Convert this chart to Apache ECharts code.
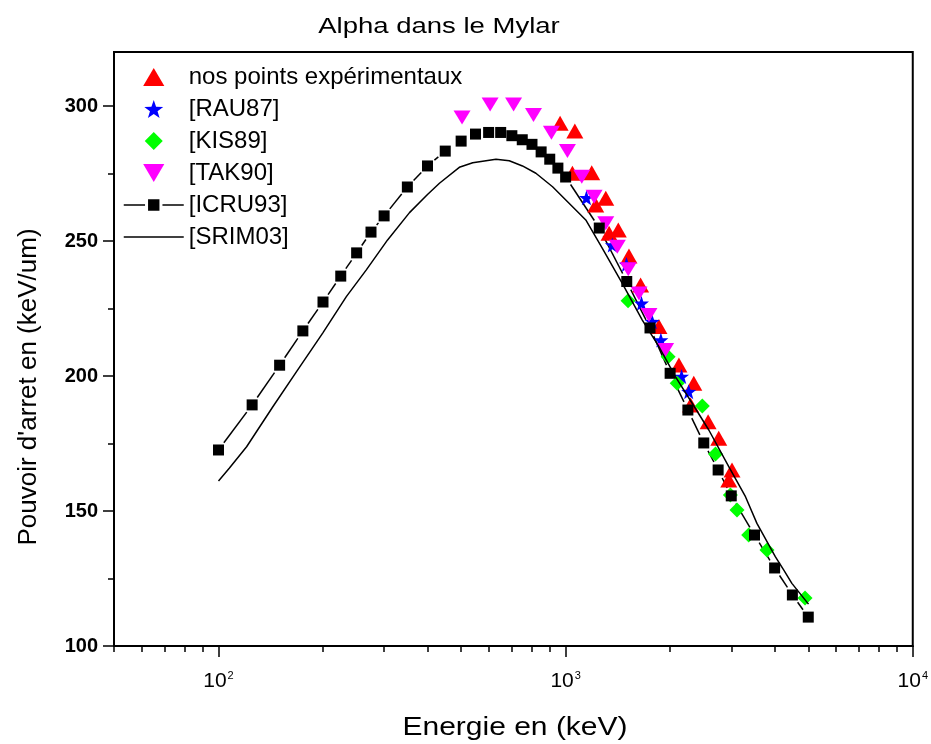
<!DOCTYPE html>
<html>
<head>
<meta charset="utf-8">
<script src="https://cdn.jsdelivr.net/npm/echarts@6/dist/echarts.min.js"></script>
<style>html,body{margin:0;padding:0;background:#fff}#c{width:931px;height:744px}</style>
</head>
<body>
<div id="c"></div>
<script>
// ---- data ----
const expE = [964,1063,1046,1189,1305,1221,1418,1334,1522,1644,1857,2120,2340,2291,2573,2761,3015,2951];
const expS = [293.6,290.7,275.1,275.3,265.8,263.3,254.1,252.9,244.4,233.7,218.3,204.1,197.3,189.3,183.1,176.9,165.2,161.5];
const rauE = [1148,1363,1497,1654,1776,1881,2158,2262];
const rauS = [266.0,248.5,241.3,226.9,220.1,213.3,199.8,194.2];
const kisE = [1513,1974,2096,2476,2702,2983,3117,3368,3802,4894];
const kisS = [227.9,207.1,197.3,188.9,171.1,155.9,150.4,141.1,135.6,117.8];
const takE = [503,606,708,808,910,1012,1113,1208,1305,1409,1515,1627,1738,1941];
const takS = [295.7,300.6,300.6,296.7,290.1,283.3,273.8,266.4,256.6,247.9,239.5,230.6,222.6,209.6];
const icruE = [100,125,150,175,200,225,250,275,300,350,400,450,500,550,600,650,700,750,800,850,900,950,1000,1250,1500,1750,2000,2250,2500,2750,3000,3500,4000,4500,5000];
const icruS = [172.6,189.3,204.0,216.7,227.4,237.0,245.6,253.3,259.3,270.0,277.8,283.3,287.0,289.6,290.2,290.2,289.0,287.5,285.8,283.0,280.3,277.0,273.7,254.8,235.0,217.8,201.0,187.4,175.2,165.2,155.6,141.1,128.9,118.9,110.7];
const srimE = [100,107.4,120.5,143.4,167.8,199.6,233.5,266.6,307,355,400,433,494,540,630,688,751,821,917,1023,1143,1276,1456,1663,1857,2073,2315,2585,2951,3297,3557,4018,4247,4485,5008];
const srimS = [161.1,165.8,173.8,188.6,201.6,215.9,229.4,239.3,250.4,260.5,267.2,271.4,277.3,279.0,280.3,279.7,277.8,275.1,270.1,264.0,257.8,247.3,234.3,220.7,210.9,199.7,189.9,180.0,166.4,155.3,145.4,133.1,128.2,123.2,115.5];
const xMajor = [100,1000,10000];
const xMinor = [50,60,70,80,90,200,300,400,500,600,700,800,900,2000,3000,4000,5000,6000,7000,8000,9000];
const yMajor = [100,150,200,250,300];
const yMinor = [125,175,225,275];
const legendNames = ['nos points expérimentaux','[RAU87]','[KIS89]','[TAK90]','[ICRU93]','[SRIM03]'];
const titleText = 'Alpha dans le Mylar';
const xName = 'Energie en (keV)';
const yName = "Pouvoir d'arret en (keV/um)";

const FONT = 'Liberation Sans, Arial, sans-serif';
const pairs = (a, b) => a.map((v, i) => [v, b[i]]);
const segs = icruE.slice(0, -1).map((e, i) => [e, icruS[i], icruE[i + 1], icruS[i + 1]]);
const STAR = 'path://M10,0 L12.35,6.76 L19.51,6.91 L13.80,11.24 L15.88,18.09 L10,14 L4.12,18.09 L6.20,11.24 L0.49,6.91 L7.65,6.76 Z';
const UP = 'path://M5,0 L10,8.5 L0,8.5 Z';
const DOWN = 'path://M0,0 L10,0 L5,8.5 Z';
const DIAM = 'path://M5,0 L10,5 L5,10 L0,5 Z';

const chart = echarts.init(document.getElementById('c'), null, {renderer: 'canvas'});
chart.setOption({
  animation: false,
  backgroundColor: '#fff',
  textStyle: {fontFamily: FONT},
  grid: {left: 114, right: 16, top: 52, bottom: 98, show: true, borderColor: '#000', borderWidth: 2, backgroundColor: 'transparent'},
  graphic: [
    {type: 'text', x: 439, y: 27, scaleX: 1.25, style: {text: titleText, font: '22px ' + FONT, fill: '#000', textAlign: 'center', textVerticalAlign: 'middle'}},
    {type: 'text', x: 29, y: 387, rotation: Math.PI / 2, style: {text: yName, font: '26px ' + FONT, fill: '#000', textAlign: 'center', textVerticalAlign: 'middle'}},
    {type: 'text', x: 515, y: 728, scaleX: 1.2, style: {text: xName, font: '25px ' + FONT, fill: '#000', textAlign: 'center', textVerticalAlign: 'middle'}}
  ],
  legend: {
    left: 118, top: 60, orient: 'vertical', itemWidth: 60, itemHeight: 18, itemGap: 8,
    selectedMode: false,
    textStyle: {fontSize: 24, lineHeight: 24, color: '#000', fontFamily: FONT},
    data: [
      {name: legendNames[0]},
      {name: legendNames[1]},
      {name: legendNames[2]},
      {name: legendNames[3]},
      {name: legendNames[4], lineStyle: {width: 1.5, color: '#000', opacity: 1, type: 'solid'}, itemStyle: {color: '#000', borderColor: '#fff', borderWidth: 3}},
      {name: legendNames[5], lineStyle: {width: 1.5, color: '#000', opacity: 1, type: 'solid'}, itemStyle: {opacity: 0}}
    ]
  },
  xAxis: [
    {
      type: 'log', logBase: 10, min: 50, max: 10000, position: 'bottom',
      axisLine: {show: true, lineStyle: {color: '#000', width: 2}},
      axisTick: {show: true, customValues: xMajor, length: 11, lineStyle: {color: '#000', width: 1.5}},
      axisLabel: {
        show: true, customValues: xMajor, margin: 24, color: '#000',
        formatter: function (v) { const e = Math.round(Math.log10(v)); return '{b|10}{s|' + e + '}'; },
        rich: {b: {fontSize: 21, fontFamily: FONT, color: '#000', lineHeight: 22, verticalAlign: 'bottom'}, s: {fontSize: 11, fontFamily: FONT, color: '#000', lineHeight: 22, verticalAlign: 'top', padding: [0, 0, 0, 1]}}
      },
      splitLine: {show: false}
    },
    {
      type: 'log', logBase: 10, min: 50, max: 10000, position: 'bottom',
      axisLine: {show: false},
      axisTick: {show: true, customValues: xMinor, length: 6, lineStyle: {color: '#000', width: 1.5}},
      axisLabel: {show: false},
      splitLine: {show: false}
    }
  ],
  yAxis: [
    {
      type: 'value', min: 100, max: 320, position: 'left',
      axisLine: {show: true, lineStyle: {color: '#000', width: 2}},
      axisTick: {show: true, customValues: yMajor, length: 11, lineStyle: {color: '#000', width: 1.5}},
      axisLabel: {show: true, customValues: yMajor, margin: 16, color: '#000', fontSize: 20, fontWeight: 'bold', fontFamily: FONT},
      splitLine: {show: false}
    },
    {
      type: 'value', min: 100, max: 320, position: 'left',
      axisLine: {show: false},
      axisTick: {show: true, customValues: yMinor, length: 6, lineStyle: {color: '#000', width: 1.5}},
      axisLabel: {show: false},
      splitLine: {show: false}
    }
  ],
  series: [
    {name: legendNames[0], type: 'scatter', data: pairs(expE, expS), symbol: UP, symbolSize: [17, 15], itemStyle: {color: '#ff0000', opacity: 1}},
    {name: legendNames[1], type: 'scatter', data: pairs(rauE, rauS), symbol: STAR, symbolSize: 15, itemStyle: {color: '#0000ff', opacity: 1}},
    {name: legendNames[2], type: 'scatter', data: pairs(kisE, kisS), symbol: DIAM, symbolSize: 15, itemStyle: {color: '#00ff00', opacity: 1}},
    {name: legendNames[3], type: 'scatter', data: pairs(takE, takS), symbol: DOWN, symbolSize: [17, 14], itemStyle: {color: '#ff00ff', opacity: 1}},
    {
      type: 'custom', data: segs, encode: {x: [0, 2], y: [1, 3]}, silent: true,
      renderItem: function (params, api) {
        const a = api.coord([api.value(0), api.value(1)]);
        const b = api.coord([api.value(2), api.value(3)]);
        const dx = b[0] - a[0], dy = b[1] - a[1];
        const d = Math.sqrt(dx * dx + dy * dy);
        const g = 9;
        if (d <= 2 * g + 1) return {type: 'group', children: []};
        const ux = dx / d, uy = dy / d;
        return {type: 'line', shape: {x1: a[0] + ux * g, y1: a[1] + uy * g, x2: b[0] - ux * g, y2: b[1] - uy * g}, style: {stroke: '#000', lineWidth: 1.5}};
      }
    },
    {name: legendNames[4], type: 'line', data: pairs(icruE, icruS), symbol: 'rect', symbolSize: 11, showSymbol: true, showAllSymbol: true, lineStyle: {width: 0, opacity: 0}, itemStyle: {color: '#000', opacity: 1}},
    {name: legendNames[5], type: 'line', data: pairs(srimE, srimS), symbol: 'none', lineStyle: {width: 1.5, color: '#000'}, itemStyle: {color: '#000'}}
  ]
});
</script>
</body>
</html>
